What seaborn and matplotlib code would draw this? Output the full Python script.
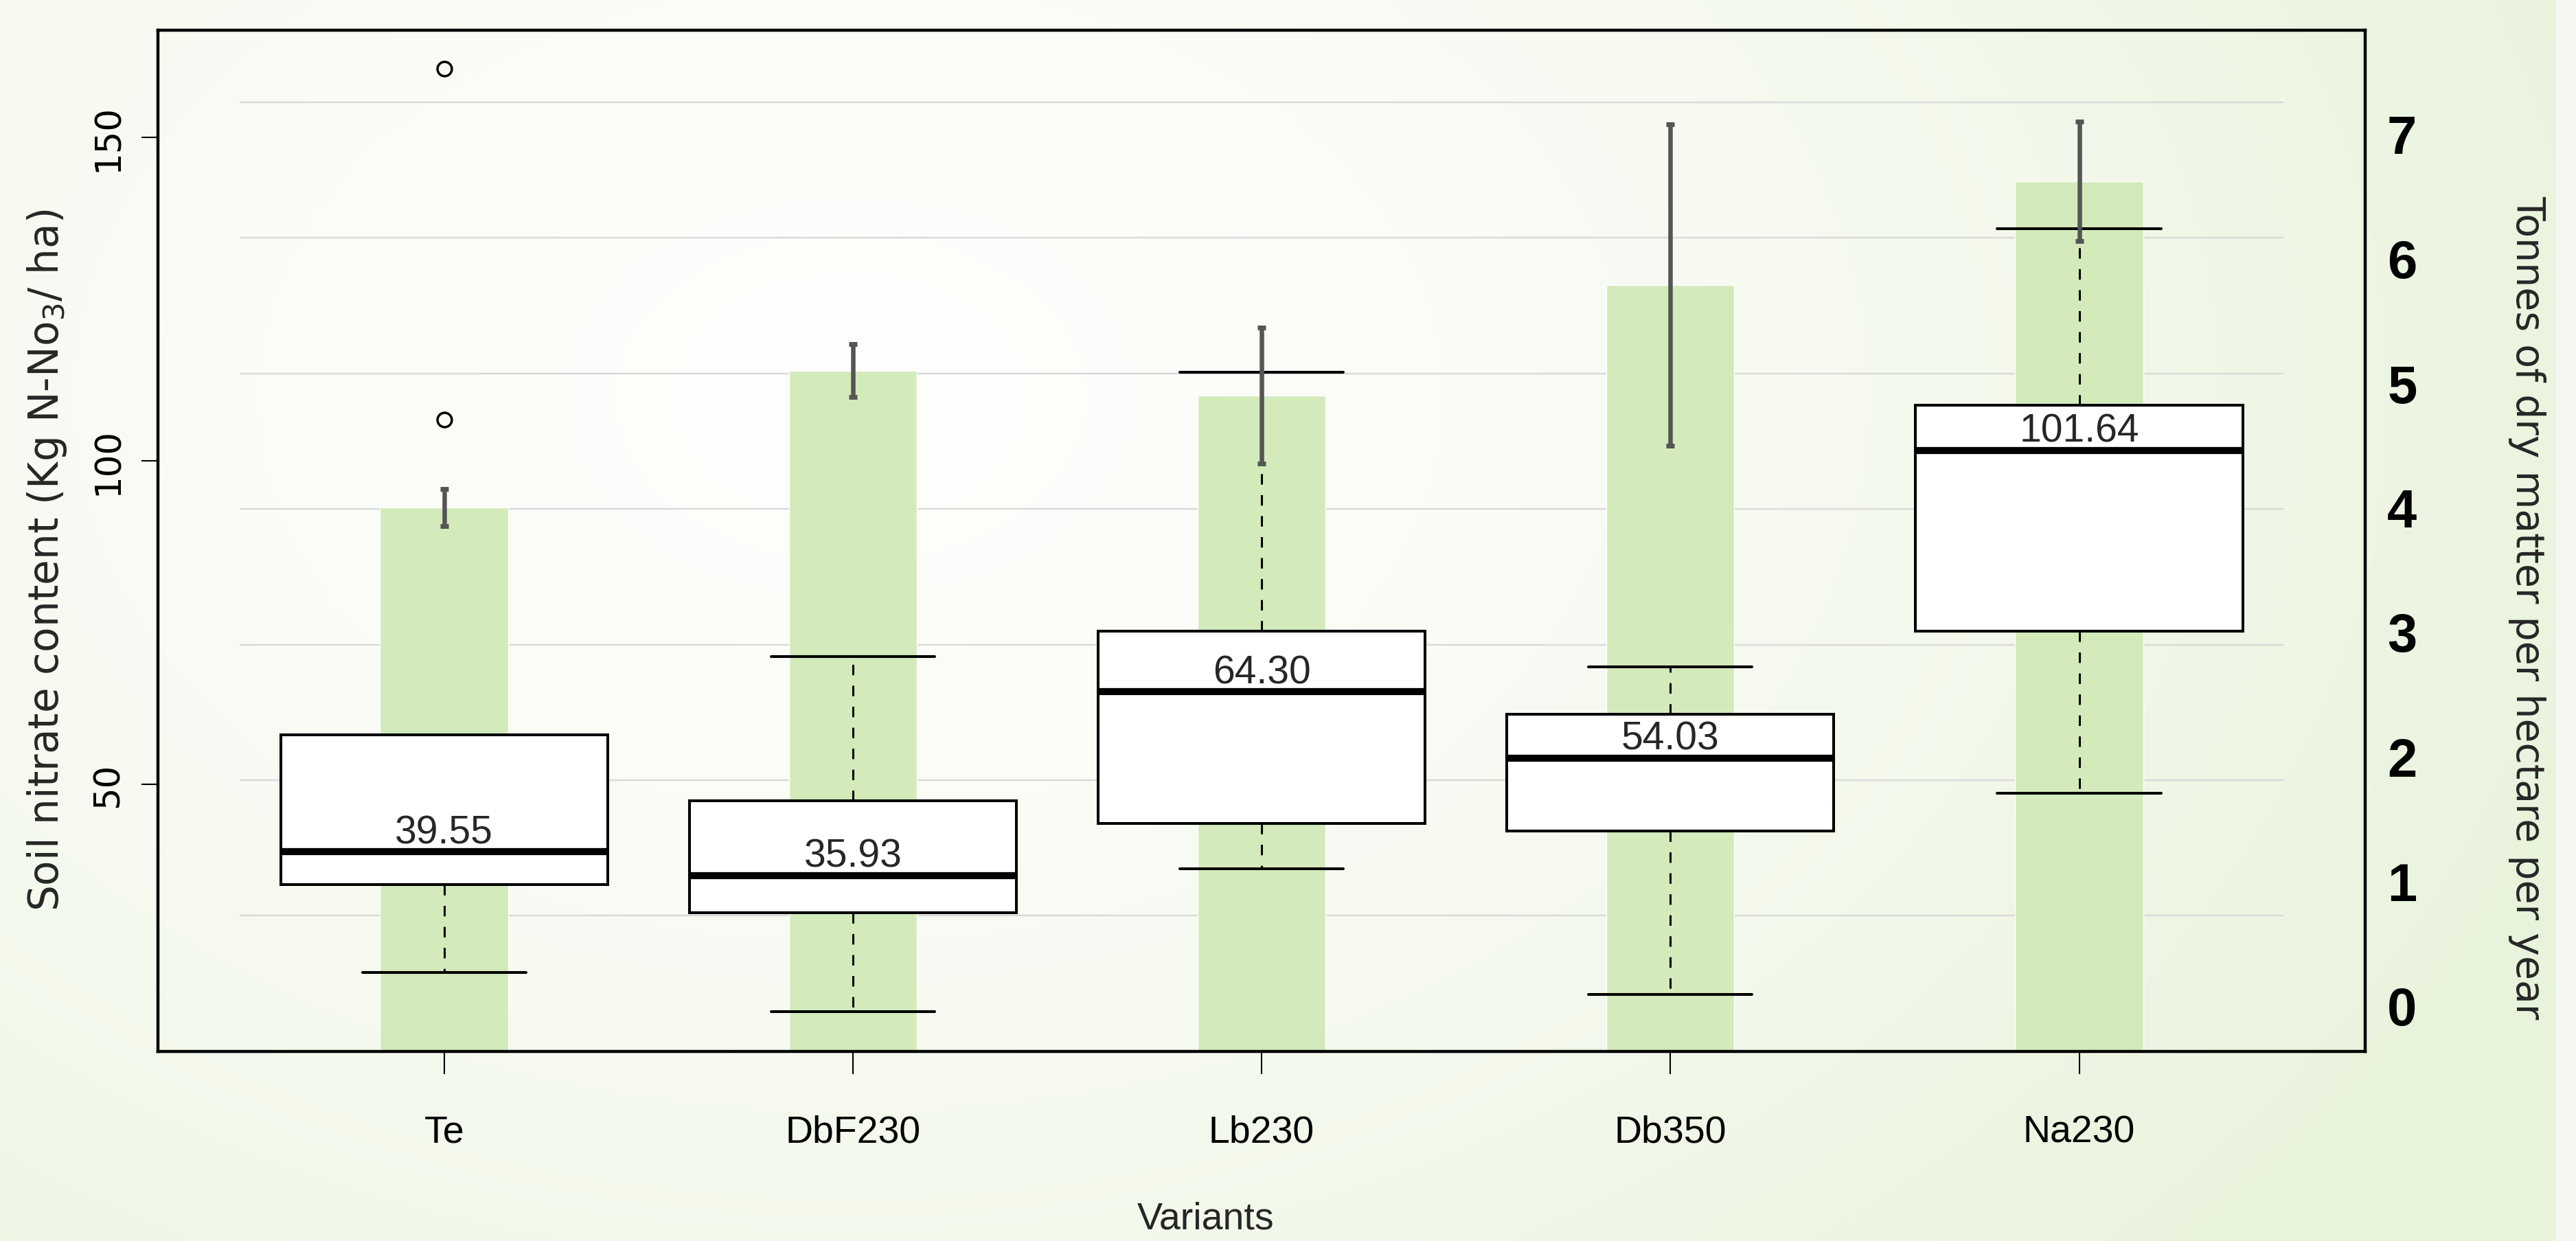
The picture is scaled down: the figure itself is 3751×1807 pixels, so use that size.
import numpy as np
import matplotlib
matplotlib.use("Agg")
import matplotlib.pyplot as plt
from matplotlib.patches import Rectangle
import seaborn as sns

### Data
variants = ["Te", "DbF230", "Lb230", "Db350", "Na230"]

# soil nitrate content (kg N-NO3 / ha), box summary per variant
nitrate_low = [20.9, 14.9, 36.9, 17.5, 48.6]
nitrate_q1 = [34.5, 30.1, 44.0, 42.8, 73.7]
nitrate_med = [39.55, 35.93, 64.30, 54.03, 101.64]
nitrate_q3 = [57.6, 47.4, 73.7, 60.8, 108.6]
nitrate_high = [57.6, 69.7, 113.7, 68.2, 135.9]
nitrate_out = [[106.4, 160.7], [], [], [], []]

# dry matter bars (t / ha / year) and their error bars
dry_matter = [4.01, 5.02, 4.835, 5.65, 6.415]
dry_matter_sd = [0.135, 0.195, 0.50, 1.185, 0.44]

grid_levels = [1, 2, 3, 4, 5, 6, 7]
left_ticks = [50, 100, 150]
right_ticks = [0, 1, 2, 3, 4, 5, 6, 7]

### Style
sns.set_style("white")
plt.rcParams["font.family"] = ["DejaVu Sans"]
plt.rcParams["mathtext.default"] = "regular"
narrow = ["Liberation Sans Narrow", "Liberation Sans", "DejaVu Sans"]

fig = plt.figure(figsize=(37.51, 18.08), dpi=100)

# soft green background, whiter on the left, greener to the right
bg = fig.add_axes([0, 0, 1, 1], zorder=-10)
yy, xx = np.mgrid[0:1:300j, 0:1:600j]
r = np.sqrt(((xx - 0.33) / 0.72) ** 2 + ((yy - 0.32) / 1.05) ** 2)
t = np.clip(r, 0, 1)[..., None] ** 1.5
c0 = np.array([254, 254, 252]) / 255
c1 = np.array([232, 243, 219]) / 255
bg.imshow(c0 * (1 - t) + c1 * t, aspect="auto", interpolation="bilinear")
bg.add_patch(Rectangle((0.9923, 0), 0.0077, 1, transform=bg.transAxes,
                       color="#f4f8f0", zorder=5))
bg.axis("off")

### Bars (dry matter)
ax = fig.add_axes([0.0613, 0.1527, 0.8569, 0.8224])
ax.patch.set_visible(False)
ax.hlines(grid_levels, -0.5, 4.5, color="#d9d9d9", lw=1.7, zorder=0)
sns.barplot(x=variants, y=dry_matter, color="#d3ebbb", saturation=1,
            width=0.313, errorbar=None, ax=ax, zorder=1)
ax.set_xlim(-0.7, 4.7)
ax.set_ylim(0, 7.53)
ax.set_yticks([])
ax.set_ylabel("")
for s in ax.spines.values():
    s.set_visible(True)
    s.set_color("black")
    s.set_linewidth(3.2)
ax.tick_params(axis="x", bottom=True, direction="out", length=24, width=1.5,
               pad=42, labelsize=40, colors="black")
for lbl in ax.get_xticklabels():
    lbl.set_fontfamily(narrow)
ax.set_xlabel("Variants", fontsize=40, family=narrow)
ax.xaxis.set_label_coords(0.4748, -0.164)
ax.xaxis.label.set_va("center")

### Boxes (soil nitrate)
ax_box = ax.twinx()
ax_box.yaxis.tick_left()
ax_box.yaxis.set_label_position("left")
stats = []
for i, v in enumerate(variants):
    stats.append(dict(label=v, whislo=nitrate_low[i], q1=nitrate_q1[i],
                      med=nitrate_med[i], q3=nitrate_q3[i],
                      whishi=nitrate_high[i], fliers=nitrate_out[i]))
ax_box.bxp(stats, positions=range(len(variants)), widths=0.8, capwidths=0.4,
           patch_artist=True, manage_ticks=False,
           boxprops=dict(facecolor="white", edgecolor="black", linewidth=2.9),
           medianprops=dict(color="black", linewidth=7.4),
           whiskerprops=dict(color="black", linewidth=2.2, linestyle=(0, (5, 5))),
           capprops=dict(color="black", linewidth=2.9),
           flierprops=dict(marker="o", markerfacecolor="none",
                           markeredgecolor="black", markersize=15,
                           markeredgewidth=2.5))
for i, m in enumerate(nitrate_med):
    ax_box.annotate(f"{m:.2f}", (i, m), xytext=(0, 9.5), textcoords="offset points",
                    ha="center", va="baseline", fontsize=41, family=narrow)
ax_box.set_ylim(8.7, 166.6)
ax_box.set_yticks(left_ticks)
ax_box.set_yticklabels([str(v) for v in left_ticks], rotation=90, va="center")
ax_box.tick_params(axis="y", left=True, right=False, direction="out", length=17,
                   width=1.5, pad=17, labelsize=37, colors="black")
ax_box.set_ylabel(r"Soil nitrate content (Kg N-No$_3$/ ha)", fontsize=43)
ax_box.yaxis.set_label_coords(-0.0501, 0.4815)
ax_box.yaxis.label.set_va("center")
for s in ax_box.spines.values():
    s.set_visible(False)

### Error bars of the dry matter bars
ax_err = ax.twinx()
ax_err.errorbar(range(len(variants)), dry_matter, yerr=dry_matter_sd, fmt="none",
                ecolor="#555555", elinewidth=4.7, capsize=4.2, capthick=5)
ax_err.set_ylim(0, 7.53)
ax_err.axis("off")

### Right axis labels
ax_r = ax.twinx()
ax_r.set_ylim(-0.37, 7.83)
ax_r.set_yticks(right_ticks)
ax_r.set_yticklabels([str(v) for v in right_ticks], fontsize=56,
                     fontweight="bold", family=narrow)
ax_r.tick_params(axis="y", right=True, length=0, pad=23, colors="black")
ax_r.set_ylabel("Tonnes of dry matter per hectare per year", rotation=-90,
                fontsize=41)
ax_r.yaxis.set_label_coords(1.0734, 0.435)
ax_r.yaxis.label.set_va("center")
ax_r.yaxis.label.set_ha("center")
for s in ax_r.spines.values():
    s.set_visible(False)

fig.savefig("out.png", dpi=100)
